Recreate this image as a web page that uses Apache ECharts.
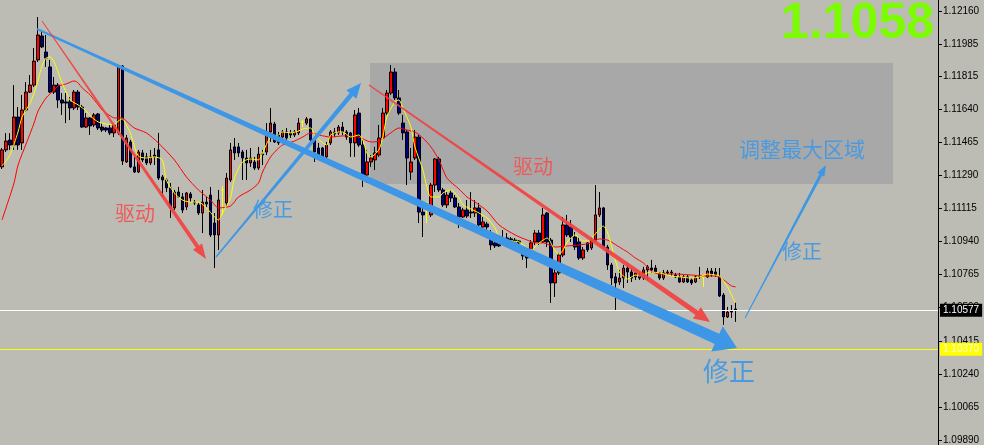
<!DOCTYPE html>
<html>
<head>
<meta charset="utf-8">
<script src="https://cdn.jsdelivr.net/npm/echarts@6.0.0/dist/echarts.min.js"></script>
<style>
html,body{margin:0;padding:0;background:#BCBCB4;}
#chart{width:984px;height:445px;}
</style>
</head>
<body>
<div id="chart"></div>
<script>
// ---- data ----
const open = [
1.11335,1.11425,1.11477,1.11451,1.11599,1.11462,1.11636,1.11731,1.11768,1.11901,
1.12028,1.11943,1.11864,1.11731,1.11768,1.11689,1.11679,1.11679,1.11647,1.11731,
1.11652,1.11546,1.11594,1.11557,1.11615,1.11546,1.11541,1.11541,1.11515,1.11515,
1.11869,1.11361,1.11467,1.11335,1.11308,1.11409,1.11388,1.11356,1.11398,1.11425,
1.11282,1.11266,1.11224,1.11118,1.11202,1.11176,1.11123,1.11192,1.11149,1.11134,
1.11091,1.11149,1.11186,1.11038,1.10975,1.11213,1.11144,1.11266,1.11441,1.11441,
1.11414,1.11382,1.11356,1.11361,1.11329,1.11403,1.11414,1.11520,1.11562,1.11504,
1.11493,1.11520,1.11515,1.11504,1.11515,1.11573,1.11567,1.11589,1.11478,1.11435,
1.11435,1.11388,1.11462,1.11520,1.11515,1.11546,1.11520,1.11515,1.11462,1.11620,
1.11451,1.11292,1.11361,1.11372,1.11398,1.11488,1.11620,1.11726,1.11837,1.11700,
1.11567,1.11520,1.11308,1.11382,1.11493,1.11096,1.11144,1.11081,1.11239,1.11377,
1.11213,1.11134,1.11197,1.11171,1.11123,1.11070,1.11107,1.11091,1.11091,1.11118,
1.11017,1.11033,1.10959,1.10933,1.10933,1.10948,1.10959,1.10954,1.10948,1.10943,
1.10896,1.10869,1.10885,1.10938,1.10985,1.10938,1.11091,1.10948,1.10721,1.10774,
1.10869,1.11028,1.11017,1.10964,1.10938,1.10853,1.10933,1.10906,1.10948,1.11081,
1.11118,1.10911,1.10816,1.10753,1.10726,1.10747,1.10800,1.10779,1.10753,1.10763,
1.10747,1.10790,1.10800,1.10800,1.10774,1.10747,1.10779,1.10774,1.10763,1.10753,
1.10726,1.10753,1.10737,1.10726,1.10753,1.10753,1.10753,1.10784,1.10779,1.10753,
1.10657,1.10541,1.10573,1.10583
];
const high = [
1.11435,1.11514,1.11514,1.11768,1.11652,1.11716,1.11784,1.11821,1.11964,1.12128,
1.12060,1.12033,1.11901,1.11811,1.11779,1.11726,1.11726,1.11705,1.11742,1.11742,
1.11663,1.11620,1.11599,1.11620,1.11620,1.11567,1.11546,1.11557,1.11567,1.11874,
1.11874,1.11504,1.11478,1.11388,1.11425,1.11425,1.11409,1.11425,1.11435,1.11515,
1.11292,1.11276,1.11250,1.11213,1.11229,1.11197,1.11202,1.11202,1.11160,1.11144,
1.11213,1.11176,1.11229,1.11091,1.11213,1.11234,1.11303,1.11462,1.11488,1.11462,
1.11425,1.11425,1.11435,1.11388,1.11441,1.11425,1.11567,1.11647,1.11573,1.11520,
1.11530,1.11541,1.11530,1.11530,1.11594,1.11583,1.11599,1.11594,1.11493,1.11462,
1.11441,1.11467,1.11530,1.11541,1.11557,1.11573,1.11530,1.11520,1.11636,1.11647,
1.11478,1.11425,1.11398,1.11441,1.11557,1.11647,1.11742,1.11874,1.11858,1.11742,
1.11610,1.11530,1.11435,1.11530,1.11504,1.11144,1.11149,1.11250,1.11382,1.11388,
1.11224,1.11202,1.11213,1.11186,1.11144,1.11118,1.11160,1.11202,1.11160,1.11144,
1.11070,1.11044,1.11001,1.10959,1.10948,1.11001,1.10985,1.10964,1.10959,1.10948,
1.10911,1.10880,1.10948,1.11001,1.11001,1.11118,1.11096,1.10959,1.10843,1.10880,
1.11070,1.11081,1.11054,1.10991,1.10964,1.10911,1.10938,1.10964,1.11239,1.11202,
1.11123,1.10922,1.10827,1.10774,1.10790,1.10816,1.10827,1.10800,1.10779,1.10779,
1.10806,1.10816,1.10843,1.10816,1.10779,1.10790,1.10790,1.10790,1.10774,1.10774,
1.10763,1.10763,1.10747,1.10763,1.10806,1.10758,1.10800,1.10800,1.10800,1.10800,
1.10668,1.10594,1.10604,1.10620
];
const low = [
1.11324,1.11414,1.11425,1.11425,1.11425,1.11425,1.11626,1.11726,1.11758,1.11890,
1.11964,1.11864,1.11726,1.11721,1.11647,1.11610,1.11567,1.11583,1.11636,1.11636,
1.11541,1.11541,1.11504,1.11546,1.11530,1.11520,1.11520,1.11504,1.11493,1.11504,
1.11345,1.11356,1.11329,1.11303,1.11303,1.11361,1.11345,1.11345,1.11345,1.11266,
1.11176,1.11202,1.11065,1.11107,1.11171,1.11091,1.11107,1.11149,1.11134,1.11081,
1.10985,1.11123,1.10964,1.10800,1.10895,1.11081,1.11123,1.11255,1.11372,1.11388,
1.11266,1.11266,1.11335,1.11319,1.11319,1.11345,1.11398,1.11467,1.11462,1.11451,
1.11478,1.11478,1.11488,1.11493,1.11504,1.11546,1.11557,1.11467,1.11361,1.11388,
1.11382,1.11382,1.11451,1.11493,1.11504,1.11504,1.11478,1.11388,1.11388,1.11441,
1.11229,1.11250,1.11335,1.11319,1.11388,1.11478,1.11610,1.11716,1.11689,1.11610,
1.11478,1.11239,1.11266,1.11372,1.11038,1.10964,1.11038,1.11070,1.11202,1.11202,
1.11123,1.11118,1.11149,1.11118,1.11012,1.11065,1.11065,1.11065,1.11070,1.11017,
1.11012,1.10964,1.10895,1.10906,1.10911,1.10938,1.10927,1.10933,1.10922,1.10917,
1.10843,1.10800,1.10864,1.10922,1.10922,1.10933,1.10911,1.10615,1.10647,1.10763,
1.10858,1.10964,1.10938,1.10895,1.10843,1.10843,1.10885,1.10896,1.10938,1.11070,
1.10906,1.10790,1.10710,1.10578,1.10710,1.10694,1.10721,1.10726,1.10737,1.10737,
1.10737,1.10737,1.10774,1.10774,1.10737,1.10737,1.10763,1.10758,1.10747,1.10721,
1.10721,1.10721,1.10710,1.10721,1.10742,1.10700,1.10747,1.10753,1.10753,1.10647,
1.10499,1.10536,1.10536,1.10515
];
const close = [
1.11425,1.11472,1.11451,1.11599,1.11451,1.11636,1.11731,1.11768,1.11895,1.12033,
1.11970,1.11911,1.11731,1.11768,1.11689,1.11673,1.11673,1.11647,1.11731,1.11652,
1.11546,1.11594,1.11552,1.11610,1.11541,1.11530,1.11530,1.11515,1.11557,1.11869,
1.11366,1.11488,1.11335,1.11308,1.11414,1.11372,1.11356,1.11388,1.11388,1.11276,
1.11266,1.11224,1.11118,1.11202,1.11176,1.11107,1.11197,1.11171,1.11144,1.11091,
1.11149,1.11139,1.10975,1.10975,1.11160,1.11213,1.11276,1.11425,1.11409,1.11409,
1.11382,1.11356,1.11382,1.11329,1.11403,1.11398,1.11520,1.11567,1.11467,1.11462,
1.11520,1.11488,1.11504,1.11520,1.11567,1.11573,1.11589,1.11478,1.11414,1.11398,
1.11388,1.11451,1.11520,1.11509,1.11546,1.11520,1.11493,1.11462,1.11610,1.11451,
1.11282,1.11361,1.11382,1.11409,1.11488,1.11620,1.11726,1.11837,1.11700,1.11620,
1.11515,1.11382,1.11361,1.11493,1.11096,1.11081,1.11144,1.11239,1.11377,1.11213,
1.11134,1.11186,1.11171,1.11123,1.11070,1.11107,1.11075,1.11096,1.11118,1.11028,
1.11044,1.11017,1.10922,1.10917,1.10917,1.10943,1.10938,1.10948,1.10938,1.10933,
1.10864,1.10853,1.10933,1.10985,1.10938,1.11081,1.10938,1.10721,1.10774,1.10869,
1.11028,1.10975,1.10964,1.10911,1.10853,1.10896,1.10896,1.10948,1.11081,1.11118,
1.10911,1.10816,1.10747,1.10721,1.10747,1.10800,1.10779,1.10747,1.10774,1.10747,
1.10790,1.10806,1.10790,1.10779,1.10747,1.10774,1.10774,1.10779,1.10753,1.10726,
1.10753,1.10726,1.10721,1.10753,1.10758,1.10753,1.10784,1.10763,1.10763,1.10652,
1.10541,1.10567,1.10567,1.10577
];
// fast (yellow) moving average, read as [bar index, price]
const maFast = [[0,1.11340],[2,1.11398],[4,1.11520],[5,1.11599],[7,1.11673],[8,1.11726],[9,1.11795],[10,1.11869],[11,1.11911],[12,1.11917],[13,1.11890],[14,1.11837],[15,1.11779],[16,1.11731],[17,1.11689],[19,1.11663],[21,1.11631],[22,1.11605],[24,1.11573],[26,1.11562],[28,1.11557],[29,1.11578],[30,1.11589],[31,1.11557],[32,1.11515],[34,1.11393],[36,1.11382],[38,1.11388],[40,1.11372],[41,1.11266],[43,1.11197],[45,1.11160],[47,1.11149],[49,1.11149],[51,1.11118],[53,1.11070],[54,1.11054],[55,1.11091],[57,1.11171],[58,1.11276],[60,1.11361],[62,1.11377],[64,1.11372],[65,1.11409],[67,1.11493],[69,1.11504],[70,1.11520],[72,1.11515],[74,1.11525],[75,1.11536],[77,1.11541],[78,1.11504],[80,1.11462],[81,1.11451],[82,1.11504],[84,1.11520],[85,1.11520],[87,1.11493],[89,1.11504],[90,1.11478],[91,1.11409],[92,1.11388],[94,1.11425],[95,1.11493],[96,1.11599],[98,1.11679],[99,1.11689],[100,1.11647],[102,1.11546],[103,1.11441],[105,1.11319],[106,1.11229],[107,1.11176],[109,1.11176],[110,1.11197],[112,1.11213],[114,1.11171],[115,1.11134],[117,1.11112],[119,1.11091],[121,1.11065],[123,1.11012],[124,1.10964],[127,1.10943],[129,1.10938],[131,1.10906],[132,1.10896],[134,1.10933],[135,1.10948],[136,1.10959],[138,1.10890],[139,1.10874],[140,1.10896],[141,1.10938],[143,1.10975],[145,1.10943],[146,1.10943],[148,1.10980],[150,1.11022],[151,1.10991],[152,1.10922],[153,1.10843],[154,1.10779],[155,1.10758],[156,1.10742],[158,1.10763],[159,1.10758],[161,1.10774],[162,1.10779],[164,1.10774],[167,1.10758],[169,1.10753],[172,1.10747],[174,1.10753],[176,1.10768],[178,1.10763],[179,1.10758],[181,1.10700],[182,1.10657],[183,1.10615]];
// slow (red) moving average, read as [bar index, price]
const maSlow = [[0,1.11054],[1,1.11118],[3,1.11250],[4,1.11345],[6,1.11456],[8,1.11567],[9,1.11631],[11,1.11700],[13,1.11742],[14,1.11763],[16,1.11774],[18,1.11790],[19,1.11779],[20,1.11753],[22,1.11716],[24,1.11663],[25,1.11636],[27,1.11605],[28,1.11594],[30,1.11594],[31,1.11578],[33,1.11541],[36,1.11515],[39,1.11462],[43,1.11372],[46,1.11282],[49,1.11213],[52,1.11160],[54,1.11118],[57,1.11128],[59,1.11176],[62,1.11213],[64,1.11250],[65,1.11308],[67,1.11388],[69,1.11435],[70,1.11451],[73,1.11472],[75,1.11493],[77,1.11515],[79,1.11504],[82,1.11493],[85,1.11499],[89,1.11493],[92,1.11467],[94,1.11472],[97,1.11515],[99,1.11541],[101,1.11530],[103,1.11520],[105,1.11488],[107,1.11441],[109,1.11372],[111,1.11276],[114,1.11218],[116,1.11176],[118,1.11149],[121,1.11102],[124,1.11028],[128,1.10975],[131,1.10948],[133,1.10933],[135,1.10933],[138,1.10911],[141,1.10917],[144,1.10922],[147,1.10933],[149,1.10954],[151,1.10948],[152,1.10938],[154,1.10911],[156,1.10885],[158,1.10853],[160,1.10827],[162,1.10784],[164,1.10768],[168,1.10768],[172,1.10763],[175,1.10758],[178,1.10758],[180,1.10737],[182,1.10705],[183,1.10700]];
const yTicks = [1.09890,1.10065,1.10240,1.10415,1.10590,1.10765,1.10940,1.11115,1.11290,1.11465,1.11640,1.11815,1.11985,1.12160];
const currentPrice = 1.10577;
const levelPrice = 1.10370;
const bigLabel = '1.1058';
const notes = ['驱动','修正','驱动','调整最大区域','修正','修正'];

// ---- build ----
const totalSlots = 234;
const categories = Array.from({length: totalSlots}, (_, i) => String(i + 1));
const candleData = open.map((o, i) => [o, close[i], low[i], high[i]]);

function arrow(x0,y0,x1,y1,w0,w1,hl,hw,color){
  const dx=x1-x0, dy=y1-y0, L=Math.hypot(dx,dy), ux=dx/L, uy=dy/L, nx=-uy, ny=ux;
  const bx=x1-ux*hl, by=y1-uy*hl;
  return {type:'polygon', z:100, silent:true,
    shape:{points:[[x0+nx*w0/2,y0+ny*w0/2],[bx+nx*w1/2,by+ny*w1/2],[bx+nx*hw/2,by+ny*hw/2],[x1,y1],
      [bx-nx*hw/2,by-ny*hw/2],[bx-nx*w1/2,by-ny*w1/2],[x0-nx*w0/2,y0-ny*w0/2]]},
    style:{fill:color}};
}
function note(text,x,y,size,color){
  return {type:'text', z:101, silent:true, x:x, y:y,
    style:{text:text, fill:color, font: size+'px "Noto Sans CJK SC"', textAlign:'center', textVerticalAlign:'middle', align:'center', verticalAlign:'middle'}};
}
const RED = 'rgba(242,66,66,0.92)';
const BLUE = '#3D97E6';
const TRED = '#EE5A5A';
const TBLUE = '#4A9AE0';

const graphics = [
  {type:'rect', z:1, silent:true, shape:{x:370,y:63,width:523,height:121}, style:{fill:'#A8A8A8'}},
  arrow(37,29,737,348,2,11,22,28,BLUE),
  arrow(42,21,206,259,1,4,15,11,RED),
  arrow(216,257,361,83,1.5,4.5,15,13,BLUE),
  arrow(369,85,710,322,1.5,5,16,14,RED),
  arrow(745,318,826,165,1,3,11,8,BLUE),
  note(notes[0],135,213,20,TRED),
  note(notes[1],273,209,20,TBLUE),
  note(notes[2],533,166,20,TRED),
  note(notes[3],802,149,21,TBLUE),
  note(notes[4],802,251,20,TBLUE),
  note(notes[5],729,371,26,TBLUE),
  {type:'text', z:102, silent:true, x:934, y:24,
   style:{text:bigLabel, fill:'#7CFC00', font:'bold 50px "Liberation Sans"', textAlign:'right', textVerticalAlign:'middle', align:'right', verticalAlign:'middle'}}
];

const labelFont = '"Liberation Sans", Arial';
function priceLine(value, lineColor, textColor, boxColor){
  return {silent:true, precision:5, symbol:['none','none'], animation:false,
    lineStyle:{color:lineColor, width:1, type:'solid', opacity:1},
    label:{show:true, position:'end', distance:2, formatter: () => value.toFixed(5), color:textColor,
      backgroundColor:boxColor, padding:[2,3,1,3], fontSize:10, fontFamily:labelFont},
    emphasis:{disabled:true},
    data:[{yAxis:value}]};
}
const chart = echarts.init(document.getElementById('chart'), null, {renderer:'canvas'});
chart.setOption({
  animation:false,
  backgroundColor:'#BCBCB4',
  grid:{left:0, right:46, top:0, bottom:0, containLabel:false},
  xAxis:{type:'category', data:categories, boundaryGap:true, show:false},
  yAxis:{type:'value', position:'right', min:1.098637, max:1.122182, scale:true,
    splitLine:{show:false},
    axisLine:{show:true, lineStyle:{color:'#000', width:1}},
    axisTick:{show:true, length:4, inside:false, lineStyle:{color:'#000'}, customValues: yTicks},
    axisLabel:{show:true, color:'#000', fontSize:10, fontFamily:labelFont, margin:5,
      customValues: yTicks, formatter: v => Number(v).toFixed(5)}
  },
  series:[
    {type:'candlestick', data:candleData, barWidth:3, z:3,
     itemStyle:{color:'#FF0000', color0:'#000080', borderColor:'#000', borderColor0:'#000', borderColorDoji:'#FFFF00', borderWidth:1},
     emphasis:{disabled:true}
    },
    {type:'line', data:maSlow, showSymbol:false, smooth:0.25, z:4, lineStyle:{color:'#FF0000', width:1}, emphasis:{disabled:true},
     markLine: priceLine(currentPrice, '#FFFFFF', '#FFFFFF', '#000000')},
    {type:'line', data:maFast, showSymbol:false, smooth:0.25, z:5, lineStyle:{color:'#FFFF00', width:1}, emphasis:{disabled:true},
     markLine: priceLine(levelPrice, '#FFFF00', '#FFFFD8', '#FFFF00')}
  ],
  graphic:{elements:graphics}
});
</script>
</body>
</html>
